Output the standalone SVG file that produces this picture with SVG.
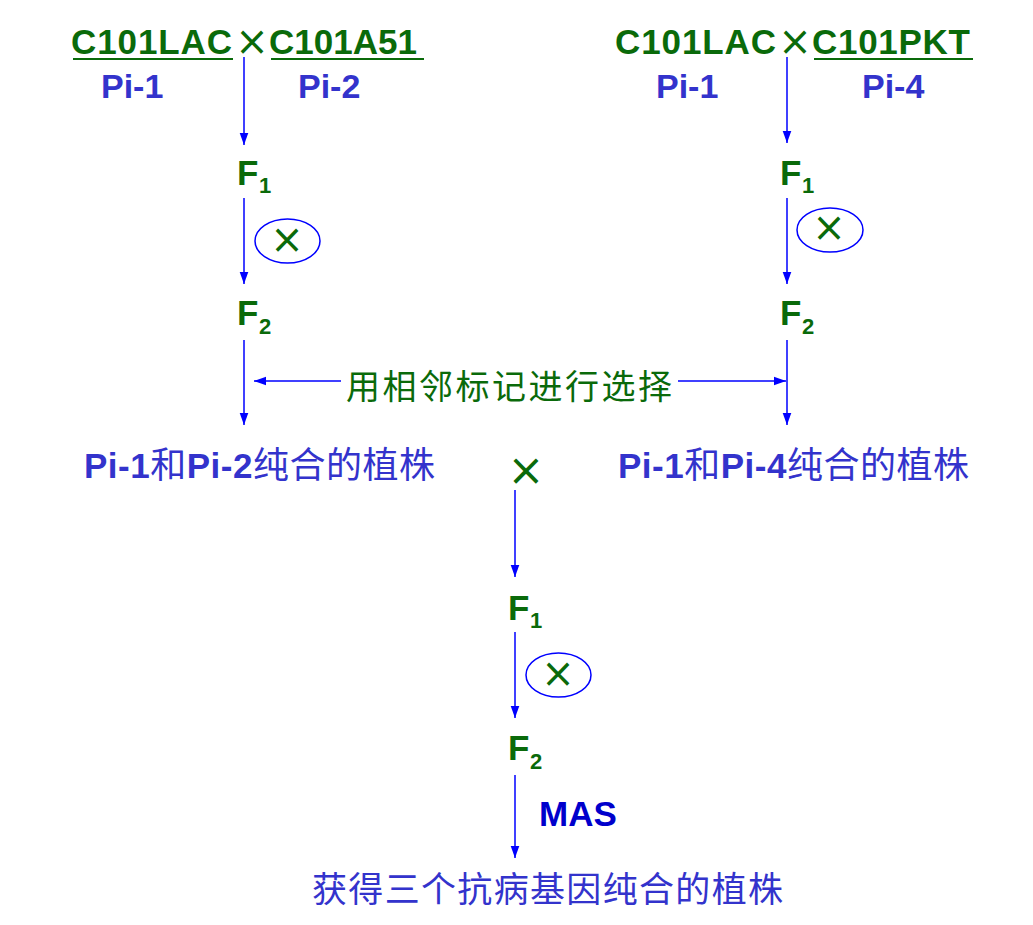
<svg xmlns="http://www.w3.org/2000/svg" width="1033" height="925" viewBox="0 0 1033 925">
<style>
.g{fill:#0a6a0a;font-family:"Liberation Sans","Noto Sans CJK SC",sans-serif;font-weight:bold;font-size:35px}
.sub{font-size:22px}
.b{fill:#3333cc;font-family:"Liberation Sans","Noto Sans CJK SC",sans-serif;font-weight:bold;font-size:34px}
.r{fill:#3333cc;font-family:"Liberation Sans","Noto Sans CJK SC",sans-serif;font-weight:bold;font-size:35px}
.cj{font-family:"Noto Sans CJK SC",sans-serif;font-weight:normal;font-size:36px}
.x{fill:#0a6a0a;font-family:"DejaVu Sans",sans-serif;font-size:40px;text-anchor:middle}
.xm{font-size:44px}
.gt{fill:#0a6a0a;font-family:"Noto Sans CJK SC",sans-serif;font-size:34px}
.bt{fill:#3333cc;font-family:"Noto Sans CJK SC",sans-serif;font-size:35px}
.mas{fill:#0000cc;font-family:"Liberation Sans",sans-serif;font-weight:bold;font-size:35px}
.ul{stroke:#0a6a0a;stroke-width:2}
.arr{stroke:#0000ff;stroke-width:1.5;fill:none;marker-end:url(#ah)}
.ell{fill:none;stroke:#0000ff;stroke-width:1.5}
</style>
<defs>
<marker id="ah" markerUnits="userSpaceOnUse" markerWidth="12" markerHeight="16" refX="14" refY="5" orient="auto" viewBox="0 0 14 10">
<path d="M0,0 L14,5 L0,10 Z" fill="#0000ff"/>
</marker>
</defs>
<rect width="1033" height="925" fill="#ffffff"/>
<g id="connectors">
<line class="arr" x1="244" y1="57" x2="244" y2="145"/>
<line class="arr" x1="244" y1="198" x2="244" y2="284"/>
<line class="arr" x1="244" y1="340" x2="244" y2="425"/>
<line class="arr" x1="787" y1="57" x2="787" y2="143"/>
<line class="arr" x1="787" y1="198" x2="787" y2="284"/>
<line class="arr" x1="787" y1="340" x2="787" y2="425"/>
<line class="arr" x1="341" y1="381" x2="254" y2="381"/>
<line class="arr" x1="678" y1="381" x2="786" y2="381"/>
<line class="arr" x1="515" y1="490" x2="515" y2="577"/>
<line class="arr" x1="515" y1="632" x2="515" y2="718"/>
<line class="arr" x1="515" y1="775" x2="515" y2="858"/>
</g>
<g id="cross-left">
<text class="g" x="71" y="54" textLength="161">C101LAC</text>
<line class="ul" x1="73" y1="59" x2="233" y2="59"/>
<text class="x" x="252" y="55">×</text>
<text class="g" x="269" y="54">C101A51</text>
<line class="ul" x1="271" y1="59" x2="424" y2="59"/>
<text class="b" x="101" y="98">Pi-1</text>
<text class="b" x="298" y="98">Pi-2</text>
</g>
<g id="cross-right">
<text class="g" x="615" y="54" textLength="161">C101LAC</text>
<text class="x" x="795" y="55">×</text>
<text class="g" x="812" y="54" textLength="158">C101PKT</text>
<line class="ul" x1="814" y1="59" x2="973" y2="59"/>
<text class="b" x="656" y="98">Pi-1</text>
<text class="b" x="862" y="98">Pi-4</text>
</g>
<g id="left-F1"><text class="g" x="237" y="185">F<tspan class="sub" x="259" y="193">1</tspan></text></g>
<g id="left-self"><ellipse class="ell" cx="287.5" cy="241" rx="32.5" ry="22"/><text class="x" x="287" y="253">×</text></g>
<g id="left-F2"><text class="g" x="237" y="325">F<tspan class="sub" x="259" y="334">2</tspan></text></g>
<g id="right-F1"><text class="g" x="780" y="185">F<tspan class="sub" x="802" y="193">1</tspan></text></g>
<g id="right-self"><ellipse class="ell" cx="830" cy="230" rx="33" ry="22"/><text class="x" x="829" y="241">×</text></g>
<g id="right-F2"><text class="g" x="780" y="325">F<tspan class="sub" x="802" y="334">2</tspan></text></g>
<g id="selection-label"><text class="gt" x="346" y="399" textLength="326">用相邻标记进行选择</text></g>
<g id="left-result"><text class="r" x="84" y="478" textLength="351">Pi-1<tspan class="cj">和</tspan>Pi-2<tspan class="cj">纯合的植株</tspan></text></g>
<g id="right-result"><text class="r" x="618" y="478" textLength="351">Pi-1<tspan class="cj">和</tspan>Pi-4<tspan class="cj">纯合的植株</tspan></text></g>
<g id="mid-cross"><text class="x xm" x="526" y="485">×</text></g>
<g id="mid-F1"><text class="g" x="508" y="620">F<tspan class="sub" x="530" y="628">1</tspan></text></g>
<g id="mid-self"><ellipse class="ell" cx="558.5" cy="675" rx="32.5" ry="22"/><text class="x" x="558" y="687">×</text></g>
<g id="mid-F2"><text class="g" x="508" y="760">F<tspan class="sub" x="530" y="769">2</tspan></text></g>
<g id="mas-label"><text class="mas" x="539" y="826">MAS</text></g>
<g id="final-result"><text class="bt" x="312" y="902" textLength="471">获得三个抗病基因纯合的植株</text></g>
</svg>
